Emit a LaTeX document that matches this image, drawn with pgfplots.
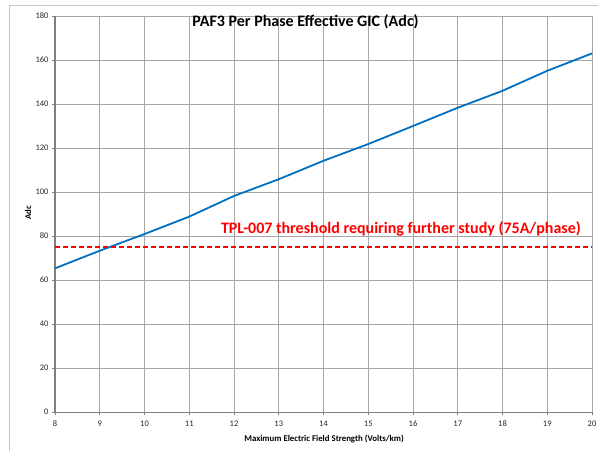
\documentclass[border=0pt]{standalone}
\usepackage{pgfplots}
\pgfplotsset{compat=1.18}
\usepackage{fontspec}
\setmainfont{Carlito}
\definecolor{lineblue}{HTML}{0070C0}
\definecolor{gridgray}{HTML}{A6A6A6}
\definecolor{axgray}{HTML}{808080}
\begin{document}
\begin{tikzpicture}[x=1pt,y=1pt]
\path[use as bounding box] (0,0) rectangle (598,451);
\draw[color=gray!45, line width=1pt] (9,0) -- (9,445) -- (598,445);
\begin{axis}[
  at={(55pt,39pt)}, anchor=south west,
  scale only axis, width=537pt, height=396pt,
  xmin=8, xmax=20, ymin=0, ymax=180,
  xtick={8,9,...,20}, ytick={0,20,...,180},
  grid=major,
  major grid style={color=gridgray, line width=0.6pt},
  axis x line*=bottom, axis y line*=left,
  x axis line style={color=axgray, line width=0.8pt, -},
  y axis line style={color=axgray, line width=2.2pt, -},
  tick style={color=axgray, line width=0.6pt},
  major tick length=3pt, tick align=outside,
  /pgf/number format/assume math mode=true,
  ticklabel style={font=\fontsize{8.5}{10}\selectfont, color=black!85},
  xticklabel style={yshift=-2pt},
  label style={font=\bfseries\fontsize{8.8}{10}\selectfont},
  xlabel={Maximum Electric Field Strength (Volts/km)},
  xlabel style={at={(axis description cs:0.501,-0.068)}, anchor=center},
  ylabel={Adc},
  ylabel style={at={(axis description cs:-0.050,0.5025)}, anchor=center, rotate=0},
  clip=false,
]
\addplot[color=lineblue, line width=1.8pt] coordinates {
(8,65.3) (9,73.3) (10,80.9) (11,88.8) (12,98.2) (13,105.8) (14,114.2)
(15,121.8) (16,130) (17,138.3) (18,146) (19,155.1) (20,163)
};
\addplot[color=red, line width=1.6pt, dash pattern=on 5pt off 3pt] coordinates {(8,75) (20,75)};
\node[font=\bfseries\fontsize{16}{18}\selectfont, anchor=center] at (axis cs:13.6,177.3) {PAF3 Per Phase Effective GIC (Adc)};
\node[font=\bfseries\fontsize{16}{18}\selectfont, text=red, anchor=center] at (axis cs:15.73,83.2) {TPL-007 threshold requiring further study (75A/phase)};
\end{axis}
\end{tikzpicture}
\end{document}
